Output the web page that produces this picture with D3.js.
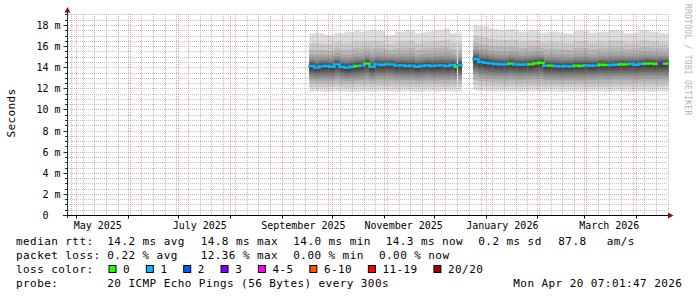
<!DOCTYPE html>
<html>
<head>
<meta charset="utf-8">
<title>smokeping year</title>
<script src="https://cdnjs.cloudflare.com/ajax/libs/d3/7.8.5/d3.min.js"></script>
<style>
body { margin: 0; background: #fff; }
text { font-family: "DejaVu Sans Mono", monospace; white-space: pre; fill: #000; }
</style>
</head>
<body>
<script>

// consolidated samples; a null value marks the start of a gap
const sampleStart = [
  "2025-09-17T14:00","2025-09-20T14:00","2025-09-23T14:00","2025-09-26T14:00","2025-09-29T14:00",
  "2025-10-02T14:00","2025-10-05T14:00","2025-10-08T14:00","2025-10-11T14:00","2025-10-14T14:00",
  "2025-10-17T14:00","2025-10-20T14:00","2025-10-23T14:00","2025-10-26T14:00","2025-10-29T14:00",
  "2025-11-01T14:00","2025-11-04T14:00","2025-11-07T14:00","2025-11-10T14:00","2025-11-13T14:00",
  "2025-11-16T14:00","2025-11-19T14:00","2025-11-22T14:00","2025-11-25T14:00","2025-11-28T14:00",
  "2025-12-01T14:00","2025-12-04T14:00","2025-12-07T14:00","2025-12-10T14:00","2025-12-13T14:00",
  "2025-12-14T14:00","2025-12-15T14:00","2025-12-17T14:00",
  "2025-12-24T17:00","2025-12-27T17:00","2025-12-30T17:00","2026-01-02T17:00","2026-01-05T17:00",
  "2026-01-08T17:00","2026-01-11T17:00","2026-01-14T17:00","2026-01-17T17:00","2026-01-20T17:00",
  "2026-01-23T17:00","2026-01-26T17:00","2026-01-29T17:00","2026-02-01T17:00","2026-02-04T17:00",
  "2026-02-07T17:00","2026-02-10T17:00","2026-02-13T17:00","2026-02-16T17:00","2026-02-19T17:00",
  "2026-02-22T17:00","2026-02-25T17:00","2026-02-28T17:00","2026-03-03T17:00","2026-03-06T17:00",
  "2026-03-09T17:00","2026-03-12T17:00","2026-03-15T17:00","2026-03-18T17:00","2026-03-21T17:00",
  "2026-03-24T17:00","2026-03-27T17:00","2026-03-30T17:00","2026-04-02T17:00","2026-04-05T17:00",
  "2026-04-08T17:00","2026-04-11T17:00","2026-04-14T17:00","2026-04-17T17:00",
  "2026-04-20T07:01"
];

// median rtt (ms)
const medianMs = [
  14.12, 13.96, 14.08, 14.12, 14.05, 14.27, 14.05, 13.96, 14.05, 14.12,
  14.15, 14.34, 14.05, 14.27, 14.21, 14.27, 14.27, 14.15, 14.18, 14.12,
  14.15, 14.05, 14.12, 14.18, 14.12, 14.15, 14.18, 14.12, 14.21, 14.05,
  null, 14.18, null,
  14.75, 14.49, 14.43, 14.37, 14.30, 14.27, 14.27, 14.34, 14.27, 14.24,
  14.27, 14.27, 14.37, 14.43, 14.15, 14.15, 14.12, 14.08, 14.12, 14.08,
  14.15, 14.12, 14.18, 14.15, 14.15, 14.24, 14.21, 14.21, 14.24, 14.27,
  14.27, 14.30, 14.24, 14.30, 14.34, 14.34, 14.30, 14.34, 14.34,
  null
];

// slowest ping (ms)
const maxMs = [
  17.21, 17.27, 17.21, 17.05, 17.05, 17.27, 17.21, 17.37, 17.37, 17.53,
  17.37, 17.43, 17.53, 17.43, 17.43, 17.05, 17.05, 17.37, 17.37, 17.53,
  17.53, 17.21, 17.27, 17.37, 17.43, 17.53, 17.53, 17.68, 17.21, 17.27,
  null, 17.27, null,
  18.0, 17.9, 17.85, 17.68, 17.6, 17.53, 17.53, 17.6, 17.55, 17.37,
  17.37, 17.53, 17.5, 17.27, 17.3, 17.37, 17.37, 17.3, 17.21, 17.21,
  17.45, 17.5, 17.43, 17.27, 17.3, 17.37, 17.37, 17.53, 17.5, 17.45,
  17.21, 17.2, 17.27, 17.5, 17.53, 17.37, 17.37, 17.27, 17.21,
  null
];

// fastest ping (ms)
const minMs = [
  11.68, 11.72, 11.7, 11.66, 11.7, 11.74, 11.7, 11.68, 11.66, 11.7,
  11.72, 11.7, 11.68, 11.7, 11.74, 11.72, 11.7, 11.68, 11.7, 11.72,
  11.7, 11.66, 11.7, 11.72, 11.7, 11.68, 11.7, 11.72, 11.7, 11.68,
  null, 11.7, null,
  11.8, 11.76, 11.74, 11.72, 11.7, 11.72, 11.7, 11.74, 11.7, 11.68,
  11.7, 11.72, 11.7, 11.68, 11.7, 11.72, 11.7, 11.68, 11.7, 11.72,
  11.7, 11.7, 11.68, 11.7, 11.72, 11.7, 11.68, 11.7, 11.72, 11.7,
  11.7, 11.68, 11.7, 11.72, 11.7, 11.68, 11.7, 11.72, 11.7,
  null
];

// average lost pings out of 20
const lossPings = [
  0.15, 0.2, 0.1, 0.15, 0.2, 0.1, 0.15, 0.25, 0.1, 0,
  0.15, 0, 0.2, 0.1, 0.15, 0.2, 0.1, 0.15, 0.1, 0.2,
  0.15, 0.1, 0.2, 0.15, 0.1, 0.2, 0.15, 0.1, 0.2, 0,
  null, 0.15, null,
  0.2, 0.15, 0.1, 0.15, 0.1, 0.2, 0.1, 0, 0.15, 0.1,
  0.1, 0, 0, 0, 0.1, 0, 0.15, 0.1, 0.1, 0.15,
  0, 0, 0.1, 0.15, 0.1, 0, 0, 0.1, 0.1, 0,
  0, 0.15, 0.1, 0.1, 0, 0, 0, 2.5, 0,
  null
];

// typical spread of sorted pings: ranks 11..19 toward max, ranks 10..2 toward min
const upperRankFrac = [0.03, 0.06, 0.1, 0.14, 0.19, 0.26, 0.36, 0.5, 0.7];
const lowerRankFrac = [0.06, 0.14, 0.22, 0.3, 0.38, 0.46, 0.56, 0.68, 0.82];

const lossLabels = ["0", "1", "2", "3", "4-5", "6-10", "11-19", "20/20"];
const lossUpper  = [0, 1, 2, 3, 5, 10, 19, 20];
const lossColors = ["#26ff00", "#00b8ff", "#0059ff", "#7e00ff", "#ff00ff", "#ff5500", "#ff0000", "#a10000"];

const yTicks = [0, 2, 4, 6, 8, 10, 12, 14, 16, 18];
const monthLabels = ["May 2025", "July 2025", "September 2025", "November 2025", "January 2026", "March 2026"];
const monthLabelAt = ["2025-05-14", "2025-07-14", "2025-09-14", "2025-11-13", "2026-01-11", "2026-03-16"];

const rttStats = [14.2, 14.8, 14.0, 14.3]; // avg max min now
const rttSd = 0.2, amPerS = 87.8;
const lossStats = [0.22, 12.36, 0.00, 0.00]; // avg max min now
const probeText = "20 ICMP Echo Pings (56 Bytes) every 300s";
const stampText = "Mon Apr 20 07:01:47 2026";

const width = 697, height = 297;
const tStart = new Date("2025-04-25T07:01"), tEnd = new Date("2026-04-20T07:01");

let x = d3.scaleTime().domain([tStart, tEnd]).range([66.5, 668.3]);
let y = d3.scaleLinear().domain([0, 19.1]).range([215, 13.4]);

let svg = d3.select('body').append('svg')
  .attr('width', width).attr('height', height);

svg.append('rect').attr('width', width).attr('height', height).attr('fill', '#fff');

// build samples
let samples = sampleStart.map((s, i) => ({
  t0: new Date(s),
  t1: i < sampleStart.length - 1 ? new Date(sampleStart[i + 1]) : tEnd,
  med: medianMs[i], max: maxMs[i], min: minMs[i], loss: lossPings[i]
})).filter(d => d.med != null);

function ping(d, rank) {
  if (rank >= 20) return d.max;
  if (rank <= 1) return d.min;
  if (rank >= 11) return d.med + upperRankFrac[rank - 11] * (d.max - d.med);
  return d.med - lowerRankFrac[10 - rank] * (d.med - d.min);
}

// smoke: band ibot spans ping ibot .. ping (21-ibot)
let smoke = svg.append('g');
for (let ibot = 1; ibot <= 10; ibot++) {
  let g = Math.floor(190 / 10 * (10 - ibot)) + 50;
  smoke.selectAll(null)
    .data(samples)
    .enter()
    .append('rect')
    .attr('x', d => x(d.t0))
    .attr('width', d => x(d.t1) - x(d.t0) + 0.3)
    .attr('y', d => y(ping(d, 21 - ibot)))
    .attr('height', d => y(ping(d, ibot)) - y(ping(d, 21 - ibot)))
    .attr('fill', d3.rgb(g, g, g));
}

// grid
let minorCol = 'rgba(130,130,130,0.5)', majorCol = 'rgba(220,40,40,0.38)';
let grid = svg.append('g').attr('stroke-width', 1).attr('stroke-dasharray', '1,1');
let minorY = d3.range(1, 39).map(k => k * 0.5).filter(v => v % 2 !== 0);
grid.selectAll('.hmin').data(minorY).enter().append('line')
  .attr('x1', 68).attr('x2', 668)
  .attr('y1', d => Math.round(y(d)) + 0.5).attr('y2', d => Math.round(y(d)) + 0.5)
  .attr('stroke', minorCol);
let weeks = d3.timeMonday.range(tStart, tEnd).filter(d => d.getDate() !== 1);
grid.selectAll('.vmin').data(weeks).enter().append('line')
  .attr('x1', d => Math.round(x(d)) + 0.5).attr('x2', d => Math.round(x(d)) + 0.5)
  .attr('y1', 215).attr('y2', 13)
  .attr('stroke', minorCol);
grid.selectAll('.hmaj').data(yTicks.slice(1)).enter().append('line')
  .attr('x1', 68).attr('x2', 668)
  .attr('y1', d => Math.round(y(d)) + 0.5).attr('y2', d => Math.round(y(d)) + 0.5)
  .attr('stroke', majorCol);
let months = d3.timeMonth.range(tStart, tEnd);
grid.selectAll('.vmaj').data(months).enter().append('line')
  .attr('x1', d => Math.round(x(d)) + 0.5).attr('x2', d => Math.round(x(d)) + 0.5)
  .attr('y1', 215).attr('y2', 13)
  .attr('stroke', majorCol);

// median line, coloured by loss
function lossColor(l) {
  let k = lossUpper.findIndex(u => l <= u);
  return lossColors[k < 0 ? lossColors.length - 1 : k];
}
let stepLine = d3.line().x(p => p[0]).y(p => p[1]);
svg.append('g').selectAll('path')
  .data(samples)
  .enter()
  .append('path')
  .attr('d', (d, i) => {
    let pts = [[x(d.t0), y(d.med)], [x(d.t1), y(d.med)]];
    let nx = samples[i + 1];
    if (nx && +nx.t0 === +d.t1) pts.push([x(d.t1), y(nx.med)]);
    return stepLine(pts);
  })
  .attr('fill', 'none')
  .attr('stroke', d => lossColor(d.loss))
  .attr('stroke-width', 2.4)
  .attr('stroke-linecap', 'square');

// axes
let axis = svg.append('g');
axis.append('line').attr('x1', 67.5).attr('x2', 67.5).attr('y1', 218).attr('y2', 11)
  .attr('stroke', '#2c2c2c');
axis.append('line').attr('x1', 63).attr('x2', 669).attr('y1', 215.5).attr('y2', 215.5)
  .attr('stroke', '#000');
axis.append('path').attr('d', 'M64.5,12.5 L67.5,7 L70.5,12.5 Z').attr('fill', '#8b1010');
axis.append('path').attr('d', 'M668,212.5 L673.5,215.5 L668,218.5 Z').attr('fill', '#8b1010');

axis.selectAll('.ytk').data(yTicks).enter().append('line')
  .attr('x1', 63.5).attr('x2', 67)
  .attr('y1', d => Math.round(y(d)) + 0.5).attr('y2', d => Math.round(y(d)) + 0.5)
  .attr('stroke', '#2c2c2c');
axis.selectAll('.ymt').data(minorY).enter().append('line')
  .attr('x1', 65).attr('x2', 67)
  .attr('y1', d => Math.round(y(d)) + 0.5).attr('y2', d => Math.round(y(d)) + 0.5)
  .attr('stroke', '#2c2c2c');
axis.selectAll('.xtk').data(months).enter().append('line')
  .attr('x1', d => Math.round(x(d)) + 0.5).attr('x2', d => Math.round(x(d)) + 0.5)
  .attr('y1', 216).attr('y2', 218.5)
  .attr('stroke', '#000');

svg.append('g').selectAll('text')
  .data(yTicks)
  .enter()
  .append('text')
  .text(d => d === 0 ? '0  ' : d + ' m')
  .attr('x', 60.5)
  .attr('y', d => y(d) + 4)
  .attr('text-anchor', 'end')
  .attr('font-size', '10px');

svg.append('g').selectAll('text')
  .data(monthLabels)
  .enter()
  .append('text')
  .text(d => d)
  .attr('x', (d, i) => x(new Date(monthLabelAt[i] + 'T00:00')))
  .attr('y', 228.5)
  .attr('text-anchor', 'middle')
  .attr('font-size', '10px');

svg.append('text')
  .text('Seconds')
  .attr('transform', 'translate(15,113) rotate(-90)')
  .attr('text-anchor', 'middle')
  .attr('font-size', '11px')
  .attr('letter-spacing', '0.4px');

svg.append('text')
  .text('RRDTOOL / TOBI OETIKER')
  .attr('transform', 'translate(685,4) rotate(90)')
  .attr('font-size', '8px')
  .attr('letter-spacing', '0.25px')
  .style('fill', '#b4b4b4');

// legend
let legend = svg.append('g').attr('font-size', '11px').attr('letter-spacing', '0.42px');
let f1 = d3.format('.1f'), f2 = d3.format('.2f');
let rows = [
  [245.2, [['median rtt:', 16], [f1(rttStats[0]) + ' ms avg', 107.3], [f1(rttStats[1]) + ' ms max', 200.7],
           [f1(rttStats[2]) + ' ms min', 293.3], [f1(rttStats[3]) + ' ms now', 385.7],
           [f1(rttSd) + ' ms sd', 478.3], [f1(amPerS), 558.3], ['am/s', 606.7]]],
  [259.1, [['packet loss:', 16], [f2(lossStats[0]) + ' % avg', 107.3], [f2(lossStats[1]) + ' % max', 200.7],
           [f2(lossStats[2]) + ' % min', 293.3], [f2(lossStats[3]) + ' % now', 379]]],
  [273, [['loss color:', 16]]],
  [286.9, [['probe:', 16], [probeText, 107.3], [stampText, 513.3]]]
];
rows.forEach(r => {
  legend.selectAll(null)
    .data(r[1])
    .enter()
    .append('text')
    .text(d => d[0])
    .attr('x', d => d[1])
    .attr('y', r[0]);
});

let lx = 108.5;
lossLabels.forEach((lab, i) => {
  legend.append('rect')
    .attr('x', lx + 0.5).attr('y', 265.5).attr('width', 7).attr('height', 7)
    .attr('fill', lossColors[i]).attr('stroke', '#000').attr('stroke-width', 1);
  legend.append('text').text(lab).attr('x', lx + 14.6).attr('y', 273);
  lx += 14.6 + lab.length * 7.05 + 15.7;
});

</script>
</body>
</html>
